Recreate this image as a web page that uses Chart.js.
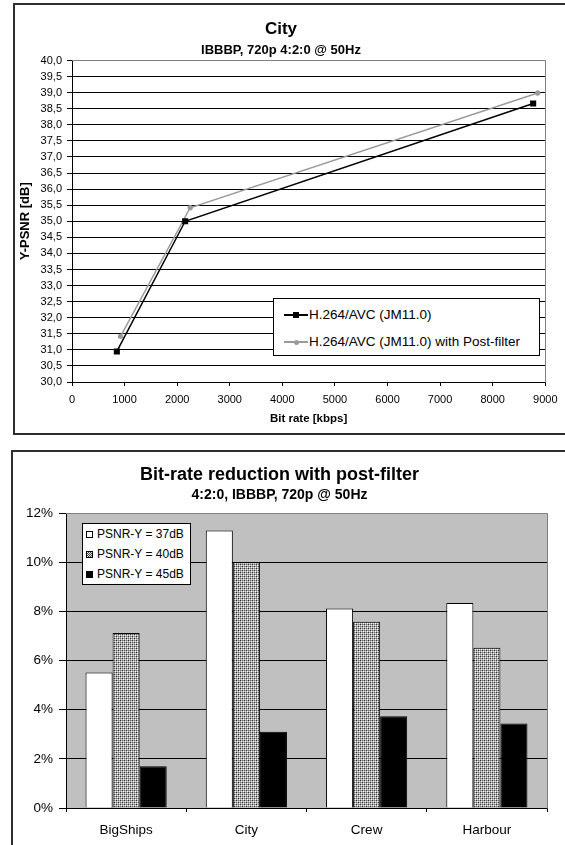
<!DOCTYPE html>
<html><head><meta charset="utf-8">
<script src="https://cdn.jsdelivr.net/npm/chart.js@4.4.1/dist/chart.umd.min.js"></script>
<style>
html,body{margin:0;padding:0;width:565px;height:845px;overflow:hidden;background:#fff;font-family:"Liberation Sans",Arial,sans-serif;}
.frame{position:absolute;border:2px solid #2e2e2e;box-sizing:border-box;background:#fff;}
#f1{left:13px;top:3px;width:560px;height:432px;}
#f2{left:11px;top:450px;width:560px;height:420px;}
canvas{position:absolute;left:0;}
#c1{top:0;}
#c2{top:440px;}
.legend{position:absolute;background:#fff;border:1px solid #000;box-sizing:border-box;color:#000;font-family:"Liberation Sans",Arial,sans-serif;}
#lg1{left:273px;top:298px;width:267px;height:58px;font-size:13.5px;}
#lg2{left:82px;top:523px;width:109px;height:62px;font-size:12px;}
.row{position:absolute;left:0;height:14px;line-height:14px;white-space:nowrap;}
.row .txt{position:absolute;top:0;}
.row .ln{position:absolute;}
.row .mk{position:absolute;box-sizing:border-box;}
</style>
</head><body>
<div class="frame" id="f1"></div>
<div class="frame" id="f2"></div>
<canvas id="c1" width="565" height="440"></canvas>
<canvas id="c2" width="565" height="405"></canvas>
<div class="legend" id="lg1"></div>
<div class="legend" id="lg2"></div>
<script>
// ---- Top chart data ----
const seriesLabels = ['H.264/AVC (JM11.0)', 'H.264/AVC (JM11.0) with Post-filter'];
const bitrateBase = [853, 2152, 8770];
const psnrBase = [30.95, 35.0, 38.66];
const bitratePost = [923, 2247, 8857];
const psnrPost = [31.42, 35.42, 38.99];
const bitrateTicks = [0, 1000, 2000, 3000, 4000, 5000, 6000, 7000, 8000, 9000];
const psnrTicks = [30.0, 30.5, 31.0, 31.5, 32.0, 32.5, 33.0, 33.5, 34.0, 34.5, 35.0, 35.5, 36.0, 36.5, 37.0, 37.5, 38.0, 38.5, 39.0, 39.5, 40.0];

// ---- Bottom chart data ----
const sequences = ['BigShips', 'City', 'Crew', 'Harbour'];
const barLabels = ['PSNR-Y = 37dB', 'PSNR-Y = 40dB', 'PSNR-Y = 45dB'];
const reduction37 = [5.52, 11.30, 8.12, 8.34];
const reduction40 = [7.12, 10.0, 7.58, 6.52];
const reduction45 = [1.70, 3.10, 3.73, 3.44];
const percentTicks = [0, 2, 4, 6, 8, 10, 12];

const FONT = '"Liberation Sans", Arial, sans-serif';
Chart.defaults.font.family = FONT;
Chart.defaults.color = '#000';

const plotFrame = {
  id: 'plotFrame',
  beforeDraw(chart, args, opts) {
    if (!opts.fill) return;
    const {ctx, chartArea: ca} = chart;
    ctx.save();
    ctx.fillStyle = opts.fill;
    ctx.fillRect(ca.left, ca.top, ca.right - ca.left, ca.bottom - ca.top);
    ctx.restore();
  },
  beforeDatasetsDraw(chart, args, opts) {
    const {ctx, chartArea: ca} = chart;
    const t = Math.round(ca.top - 0.5) + 0.5;
    const r = Math.round(ca.right - 0.5) + 0.5;
    const b = Math.round(ca.bottom - 0.5) + 0.5;
    ctx.save();
    ctx.strokeStyle = opts.edge || '#808080';
    ctx.lineWidth = 1;
    ctx.beginPath();
    ctx.moveTo(ca.left, t);
    ctx.lineTo(r, t);
    ctx.lineTo(r, b);
    ctx.stroke();
    ctx.restore();
  }
};

function ticksFrom(list) {
  return function (scale) { scale.ticks = list.map(v => ({value: v})); };
}

const chart1 = new Chart(document.getElementById('c1'), {
  type: 'line',
  plugins: [plotFrame],
  data: {
    datasets: [
      {
        label: seriesLabels[0],
        data: bitrateBase.map((x, i) => ({x: x, y: psnrBase[i]})),
        borderColor: '#000000', backgroundColor: '#000000',
        borderWidth: 1.5, pointStyle: 'rect', pointRadius: 4.3, pointBorderWidth: 0,
        tension: 0, fill: false
      },
      {
        label: seriesLabels[1],
        data: bitratePost.map((x, i) => ({x: x, y: psnrPost[i]})),
        borderColor: '#9a9a9a', backgroundColor: '#9a9a9a',
        borderWidth: 1.5, pointStyle: 'circle', pointRadius: 2.7, pointBorderWidth: 0,
        tension: 0, fill: false
      }
    ]
  },
  options: {
    responsive: false, animation: false, devicePixelRatio: 1,
    layout: {padding: {left: 12, right: 15, top: 0, bottom: 0}},
    plugins: {
      legend: {display: false},
      tooltip: {enabled: false},
      plotFrame: {edge: '#808080'},
      title: {display: true, text: 'City', color: '#000', font: {size: 17, weight: 'bold'}, padding: {top: 19.3, bottom: 0}},
      subtitle: {display: true, text: 'IBBBP, 720p 4:2:0 @ 50Hz', color: '#000', font: {size: 13, weight: 'bold'}, padding: {top: 2.8, bottom: 2.4}}
    },
    scales: {
      x: {
        type: 'linear', min: 0, max: 9000,
        afterBuildTicks: ticksFrom(bitrateTicks),
        afterFit(s) { s.height = 58; },
        grid: {drawOnChartArea: false, drawTicks: true, tickLength: 4, color: '#000'},
        border: {color: '#000', width: 1},
        ticks: {padding: 7.5, font: {size: 11}, color: '#000', autoSkip: false, maxRotation: 0, callback: v => String(v)},
        title: {display: true, text: 'Bit rate [kbps]', color: '#000', font: {size: 11.5, weight: 'bold'}, padding: {top: 0, bottom: 14.1}}
      },
      y: {
        type: 'linear', min: 30, max: 40,
        afterBuildTicks: ticksFrom(psnrTicks),
        afterFit(s) { s.width = 60; },
        grid: {color: '#000', lineWidth: 1, tickLength: 5},
        border: {color: '#000', width: 1},
        ticks: {padding: 5, font: {size: 11}, color: '#000', autoSkip: false, callback: v => Number(v).toFixed(1).replace('.', ',')},
        title: {display: true, text: 'Y-PSNR [dB]', color: '#000', font: {size: 13, weight: 'bold'}, padding: {top: 5.2, bottom: 0}}
      }
    }
  }
});

// pattern for the 40dB bars
function makePattern() {
  const c = document.createElement('canvas');
  c.width = 4; c.height = 4;
  const g = c.getContext('2d');
  g.fillStyle = '#a8a8a8'; g.fillRect(0, 0, 4, 4);
  g.fillStyle = '#303030'; g.fillRect(0, 0, 1, 1); g.fillRect(2, 2, 1, 1);
  g.fillStyle = '#6e6e6e'; g.fillRect(2, 0, 1, 1); g.fillRect(0, 2, 1, 1);
  g.fillStyle = '#ffffff'; g.fillRect(1, 1, 1, 1); g.fillRect(3, 3, 1, 1);
  g.fillStyle = '#e6e6e6'; g.fillRect(1, 3, 1, 1); g.fillRect(3, 1, 1, 1);
  return c.getContext('2d').createPattern(c, 'repeat');
}
const hatch = makePattern();

const chart2 = new Chart(document.getElementById('c2'), {
  type: 'bar',
  plugins: [plotFrame],
  data: {
    labels: sequences,
    datasets: [
      {label: barLabels[0], data: reduction37, backgroundColor: '#ffffff', borderColor: '#000', borderWidth: 1},
      {label: barLabels[1], data: reduction40, backgroundColor: hatch, borderColor: '#000', borderWidth: 1},
      {label: barLabels[2], data: reduction45, backgroundColor: '#000000', borderColor: '#000', borderWidth: 1}
    ]
  },
  options: {
    responsive: false, animation: false, devicePixelRatio: 1,
    layout: {padding: {left: 12, right: 18, top: 0, bottom: 0}},
    datasets: {bar: {categoryPercentage: 0.675, barPercentage: 1}},
    plugins: {
      legend: {display: false},
      tooltip: {enabled: false},
      plotFrame: {fill: '#c0c0c0', edge: '#808080'},
      title: {display: true, text: 'Bit-rate reduction with post-filter', color: '#000', font: {size: 18, weight: 'bold'}, padding: {top: 24.2, bottom: 0}},
      subtitle: {display: true, text: '4:2:0, IBBBP, 720p @ 50Hz', color: '#000', font: {size: 14, weight: 'bold'}, padding: {top: 1.4, bottom: 9.2}}
    },
    scales: {
      x: {
        afterFit(s) { s.height = 37; },
        grid: {offset: true, drawOnChartArea: false, drawTicks: true, tickLength: 4, color: '#000'},
        border: {color: '#000', width: 1},
        ticks: {padding: 10, font: {size: 13.5}, color: '#000'}
      },
      y: {
        min: 0, max: 12,
        afterBuildTicks: ticksFrom(percentTicks),
        afterFit(s) { s.width = 54; },
        grid: {color: '#000', lineWidth: 1, tickLength: 7},
        border: {color: '#000', width: 1},
        ticks: {padding: 6, font: {size: 13.5}, color: '#000', autoSkip: false, callback: v => v + '%'}
      }
    }
  }
});

// ---- HTML legends built from the datasets ----
function lineLegend(chart, el) {
  chart.data.datasets.forEach((ds, i) => {
    const row = document.createElement('div');
    row.className = 'row';
    row.style.top = (9 + i * 27) + 'px';
    row.style.width = '100%';
    const ln = document.createElement('div');
    ln.className = 'ln';
    ln.style.left = '10px'; ln.style.width = '24px';
    ln.style.top = (7 - ds.borderWidth / 2) + 'px'; ln.style.height = ds.borderWidth + 'px';
    ln.style.background = ds.borderColor;
    const mk = document.createElement('div');
    mk.className = 'mk';
    const sz = ds.pointStyle === 'rect' ? 6 : 5;
    mk.style.width = sz + 'px'; mk.style.height = sz + 'px';
    mk.style.left = (22 - sz / 2) + 'px'; mk.style.top = (7 - sz / 2) + 'px';
    mk.style.background = ds.backgroundColor;
    if (ds.pointStyle === 'circle') mk.style.borderRadius = '50%';
    const tx = document.createElement('span');
    tx.className = 'txt'; tx.style.left = '35px';
    tx.textContent = ds.label;
    row.appendChild(ln); row.appendChild(mk); row.appendChild(tx);
    el.appendChild(row);
  });
}
function barLegend(chart, el) {
  chart.data.datasets.forEach((ds, i) => {
    const row = document.createElement('div');
    row.className = 'row';
    row.style.top = (3 + i * 20) + 'px';
    row.style.width = '100%';
    const mk = document.createElement('div');
    mk.className = 'mk';
    mk.style.left = '3px'; mk.style.top = '4px';
    mk.style.width = '7px'; mk.style.height = '7px';
    mk.style.border = '1px solid #000';
    if (typeof ds.backgroundColor === 'string') {
      mk.style.background = ds.backgroundColor;
    } else {
      mk.style.background = 'repeating-conic-gradient(#444 0 25%, #e0e0e0 0 50%) 0 0/2px 2px';
    }
    const tx = document.createElement('span');
    tx.className = 'txt'; tx.style.left = '14px';
    tx.textContent = ds.label;
    row.appendChild(mk); row.appendChild(tx);
    el.appendChild(row);
  });
}
lineLegend(chart1, document.getElementById('lg1'));
barLegend(chart2, document.getElementById('lg2'));
</script>
</body></html>
